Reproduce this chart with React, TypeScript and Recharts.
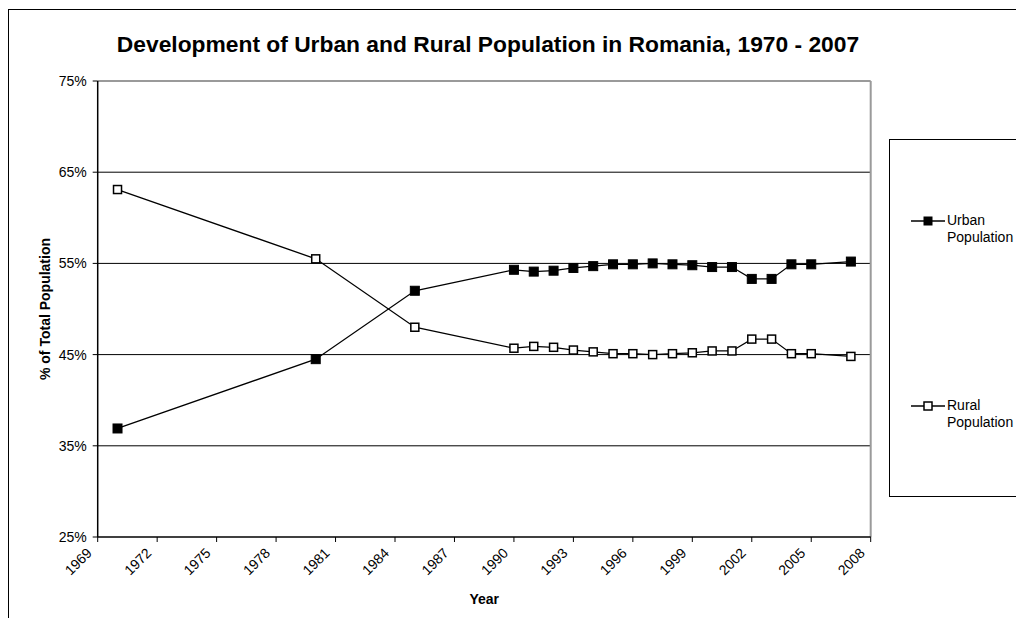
import React from "react";
import { LineChart, Line, XAxis, YAxis, ReferenceLine, Legend } from "recharts";

// Share of total population (%), by census / estimate year
const years = [
  1970, 1980, 1985, 1990, 1991, 1992, 1993, 1994, 1995, 1996, 1997, 1998, 1999,
  2000, 2001, 2002, 2003, 2004, 2005, 2007,
];
const urbanShare = [
  36.9, 44.5, 52.0, 54.3, 54.1, 54.2, 54.5, 54.7, 54.9, 54.9, 55.0, 54.9, 54.8,
  54.6, 54.6, 53.3, 53.3, 54.9, 54.9, 55.2,
];
const ruralShare = [
  63.1, 55.5, 48.0, 45.7, 45.9, 45.8, 45.5, 45.3, 45.1, 45.1, 45.0, 45.1, 45.2,
  45.4, 45.4, 46.7, 46.7, 45.1, 45.1, 44.8,
];

const yearTicks = [1969, 1972, 1975, 1978, 1981, 1984, 1987, 1990, 1993, 1996, 1999, 2002, 2005, 2008];
const percentTicks = [25, 35, 45, 55, 65, 75];
const gridLevels = [35, 45, 55, 65];
const seriesOrder = ["urban", "rural"];

const data = years.map((year, i) => ({
  year,
  urban: urbanShare[i],
  rural: ruralShare[i],
}));

const FONT = '"Liberation Sans", Arial, sans-serif';
const TICK_SIZE = 14;

const FilledSquare = (props: any) => {
  const { cx, cy, index } = props;
  return (
    <rect key={`u-${index}`} x={cx - 4.5} y={cy - 4.5} width={9} height={9} fill="#000" stroke="#000" strokeWidth={1} />
  );
};

const HollowSquare = (props: any) => {
  const { cx, cy, index } = props;
  return (
    <rect key={`r-${index}`} x={cx - 4} y={cy - 4} width={8} height={8} fill="#fff" stroke="#000" strokeWidth={1.5} />
  );
};

const XTick = (props: any) => {
  const { x, y, payload } = props;
  const ax = x - 5;
  const ay = y + 12;
  return (
    <text
      x={ax}
      y={ay}
      transform={`rotate(-45 ${ax} ${ay})`}
      textAnchor="end"
      fontFamily={FONT}
      fontSize={TICK_SIZE}
      fill="#000"
    >
      {payload.value}
    </text>
  );
};

const YearLabel = (props: any) => {
  const { x, y, width } = props.viewBox;
  return (
    <text x={x + width / 2} y={y + 67} textAnchor="middle" fontFamily={FONT} fontSize={TICK_SIZE} fontWeight="bold" fill="#000">
      Year
    </text>
  );
};

const ShareLabel = (props: any) => {
  const { x, y, height } = props.viewBox;
  const cx = x + 12;
  const cy = y + height / 2;
  return (
    <text
      x={cx}
      y={cy}
      transform={`rotate(-90 ${cx} ${cy})`}
      textAnchor="middle"
      fontFamily={FONT}
      fontSize={TICK_SIZE}
      fontWeight="bold"
      fill="#000"
    >
      % of Total Population
    </text>
  );
};

const itemTops = [72, 257];

// legend panel runs off the right edge, so it has no right border
const LegendBox = (props: any) => {
  const payload = [...(props.payload || [])].sort(
    (a: any, b: any) => seriesOrder.indexOf(a.dataKey) - seriesOrder.indexOf(b.dataKey)
  );
  return (
    <div
      style={{
        position: "relative",
        boxSizing: "border-box",
        width: 127,
        height: 358,
        borderTop: "1px solid #000",
        borderLeft: "1px solid #000",
        borderBottom: "1px solid #000",
        background: "#fff",
        fontFamily: FONT,
        fontSize: TICK_SIZE,
        color: "#000",
        lineHeight: "17px",
      }}
    >
      {payload.map((entry: any, i: number) => (
        <div key={entry.value} style={{ position: "absolute", left: 20, top: itemTops[i], display: "flex" }}>
          <svg width={36} height={17} style={{ flex: "none" }}>
            <line x1={1} y1={9} x2={35} y2={9} stroke="#000" strokeWidth={1.3} />
            {entry.dataKey === "urban" ? (
              <rect x={13.5} y={4.5} width={9} height={9} fill="#000" />
            ) : (
              <rect x={14} y={5} width={8} height={8} fill="#fff" stroke="#000" strokeWidth={1.5} />
            )}
          </svg>
          <div style={{ marginLeft: 1, width: 72 }}>{entry.value}</div>
        </div>
      ))}
    </div>
  );
};

export default function App() {
  return (
    <div style={{ position: "relative", width: 1008, height: 610, overflow: "hidden", background: "#fff" }}>
      <div
        style={{
          position: "absolute",
          left: 0,
          top: 23,
          width: 960,
          textAlign: "center",
          fontFamily: FONT,
          fontSize: 22.8,
          fontWeight: "bold",
          lineHeight: "26px",
          color: "#000",
        }}
      >
        Development of Urban and Rural Population in Romania, 1970 - 2007
      </div>
      <LineChart
        width={1008}
        height={610}
        data={data}
        margin={{ top: 73, right: 145.3, bottom: 21, left: 29.7 }}
      >
        <XAxis
          dataKey="year"
          type="number"
          domain={[1969, 2008]}
          ticks={yearTicks}
          interval={0}
          allowDataOverflow
          height={60}
          tickSize={5}
          tickMargin={0}
          tick={<XTick />}
          axisLine={{ stroke: "#000", strokeWidth: 1.5 }}
          tickLine={{ stroke: "#000" }}
          label={<YearLabel />}
        />
        <YAxis
          type="number"
          domain={[25, 75]}
          ticks={percentTicks}
          interval={0}
          allowDataOverflow
          width={60}
          tickSize={5}
          tickMargin={6}
          tickFormatter={(v: number) => `${v}%`}
          tick={{ fill: "#000", fontSize: TICK_SIZE, fontFamily: FONT }}
          axisLine={{ stroke: "#000", strokeWidth: 1.5 }}
          tickLine={{ stroke: "#000" }}
          label={<ShareLabel />}
        />
        {gridLevels.map((v) => (
          <ReferenceLine key={v} y={v} stroke="#000" strokeWidth={1} />
        ))}
        <ReferenceLine y={75} stroke="#9a9a9a" strokeWidth={2} />
        <ReferenceLine x={2008} stroke="#9a9a9a" strokeWidth={2} />
        <Legend
          layout="horizontal"
          verticalAlign="middle"
          content={<LegendBox />}
          wrapperStyle={{ left: 881, top: 131, width: 127, height: 358 }}
        />
        <Line
          dataKey="urban"
          name="Urban Population"
          type="linear"
          stroke="#000"
          strokeWidth={1.3}
          dot={FilledSquare}
          activeDot={false}
          isAnimationActive={false}
        />
        <Line
          dataKey="rural"
          name="Rural Population"
          type="linear"
          stroke="#000"
          strokeWidth={1.3}
          dot={HollowSquare}
          activeDot={false}
          isAnimationActive={false}
        />
      </LineChart>
      {/* outer chart frame, open on the right and bottom */}
      <div
        style={{
          position: "absolute",
          left: 0,
          top: 1,
          width: 1040,
          height: 640,
          borderLeft: "1.5px solid #000",
          borderTop: "1.5px solid #000",
          pointerEvents: "none",
          zIndex: 5,
        }}
      />
    </div>
  );
}
